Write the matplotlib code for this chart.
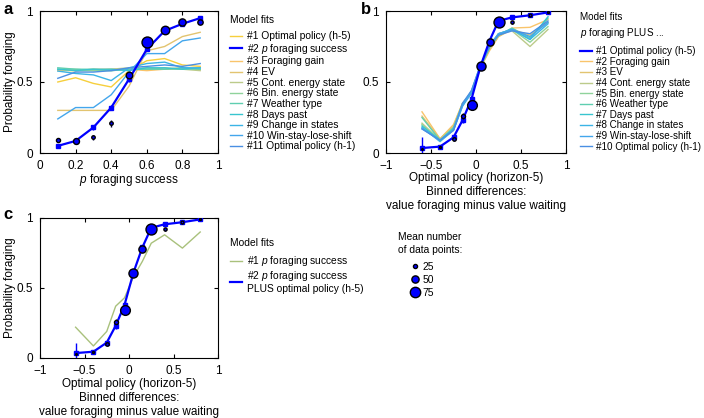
import matplotlib
matplotlib.use("Agg")
import matplotlib.pyplot as plt
from matplotlib.lines import Line2D

plt.rcParams['font.family'] = ['Liberation Sans', 'DejaVu Sans']
plt.rcParams['mathtext.fontset'] = 'custom'
plt.rcParams['mathtext.it'] = 'Liberation Sans:italic'
plt.rcParams['mathtext.rm'] = 'Liberation Sans'

# ---- panel a data ----
p_success = [0.1, 0.2, 0.3, 0.4, 0.5, 0.6, 0.7, 0.8, 0.9]
a_data = [0.09, 0.085, 0.11, 0.21, 0.55, 0.78, 0.865, 0.92, 0.92]
a_data_err = [0.01, 0.01, 0.02, 0.025, 0.015, 0.01, 0.01, 0.01, 0.01]
a_data_n = [25, 40, 20, 20, 45, 80, 60, 50, 35]
a_fit = [0.05, 0.085, 0.18, 0.32, 0.52, 0.73, 0.86, 0.91, 0.95]
a_fit_err = [0.01, 0.01, 0.015, 0.02, 0.02, 0.015, 0.01, 0.01, 0.01]

a_labels = ["#1 Optimal policy (h-5)", "#2 $p$ foraging success", "#3 Foraging gain",
            "#4 EV", "#5 Cont. energy state", "#6 Bin. energy state", "#7 Weather type",
            "#8 Days past", "#9 Change in states", "#10 Win-stay-lose-shift",
            "#11 Optimal policy (h-1)"]
a_colors = ["#f6cf3c", "#0000ff", "#f9c46b", "#e2c470", "#bccb8a", "#8fd39b",
            "#5fceb0", "#38c5cf", "#3bb4e6", "#43a6ec", "#4a8fe3"]
a_models = [
    [0.50, 0.53, 0.49, 0.465, 0.58, 0.65, 0.665, 0.62, 0.61],
    None,
    [0.58, 0.58, 0.59, 0.59, 0.59, 0.58, 0.59, 0.60, 0.59],
    [0.30, 0.30, 0.30, 0.30, 0.47, 0.72, 0.75, 0.82, 0.85],
    [0.59, 0.58, 0.58, 0.59, 0.60, 0.59, 0.60, 0.59, 0.58],
    [0.59, 0.59, 0.58, 0.58, 0.59, 0.60, 0.59, 0.59, 0.59],
    [0.60, 0.59, 0.59, 0.58, 0.59, 0.59, 0.59, 0.60, 0.59],
    [0.59, 0.58, 0.59, 0.59, 0.58, 0.60, 0.60, 0.59, 0.60],
    [0.577, 0.56, 0.55, 0.51, 0.60, 0.63, 0.64, 0.60, 0.60],
    [0.24, 0.32, 0.32, 0.41, 0.57, 0.70, 0.70, 0.79, 0.81],
    [0.526, 0.57, 0.57, 0.58, 0.60, 0.61, 0.62, 0.61, 0.63],
]

# ---- panels b and c data ----
bins = [-0.6, -0.4, -0.25, -0.15, -0.05, 0.05, 0.15, 0.25, 0.4, 0.6, 0.8]
bc_data = [0.03, 0.04, 0.10, 0.26, 0.34, 0.61, 0.78, 0.92, 0.92, 0.97, 0.99]
bc_data_err = [0.0, 0.0, 0.01, 0.02, 0.01, 0.01, 0.01, 0.01, 0.01, 0.01, 0.0]
bc_data_n = [5, 8, 20, 25, 70, 65, 50, 80, 18, 15, 8]
bc_fit = [0.035, 0.045, 0.11, 0.23, 0.38, 0.61, 0.79, 0.93, 0.955, 0.97, 0.99]
bc_fit_err = [0.075, 0.01, 0.015, 0.02, 0.02, 0.015, 0.01, 0.01, 0.01, 0.01, 0.005]

b_labels = ["#1 Optimal policy (h-5)", "#2 Foraging gain", "#3 EV", "#4 Cont. energy state",
            "#5 Bin. energy state", "#6 Weather type", "#7 Days past", "#8 Change in states",
            "#9 Win-stay-lose-shift", "#10 Optimal policy (h-1)"]
b_colors = ["#0000ff", "#f9c46b", "#e2c470", "#bccb8a", "#8fd39b", "#5fceb0",
            "#38c5cf", "#3bb4e6", "#43a6ec", "#4a8fe3"]
b_models = [
    None,
    [0.29, 0.10, 0.20, 0.35, 0.42, 0.60, 0.72, 0.82, 0.88, 0.885, 0.94],
    [0.26, 0.10, 0.19, 0.35, 0.42, 0.60, 0.73, 0.82, 0.87, 0.83, 0.92],
    [0.21, 0.09, 0.17, 0.34, 0.43, 0.60, 0.74, 0.84, 0.86, 0.75, 0.87],
    [0.20, 0.09, 0.17, 0.35, 0.43, 0.61, 0.75, 0.84, 0.87, 0.78, 0.89],
    [0.25, 0.09, 0.18, 0.34, 0.43, 0.61, 0.74, 0.83, 0.88, 0.81, 0.95],
    [0.19, 0.09, 0.17, 0.34, 0.43, 0.61, 0.75, 0.83, 0.87, 0.80, 0.96],
    [0.18, 0.08, 0.16, 0.33, 0.42, 0.61, 0.76, 0.84, 0.87, 0.80, 0.91],
    [0.17, 0.09, 0.16, 0.33, 0.44, 0.62, 0.75, 0.84, 0.87, 0.82, 0.92],
    [0.17, 0.09, 0.16, 0.35, 0.44, 0.62, 0.75, 0.83, 0.86, 0.84, 0.93],
]

c_single = [0.22, 0.086, 0.19, 0.37, 0.43, 0.58, 0.69, 0.82, 0.88, 0.785, 0.90]
c_labels = ["#1 $p$ foraging success", "#2 $p$ foraging success\nPLUS optimal policy (h-5)"]
c_colors = ["#a9c17c", "#0000ff"]

size_legend_n = [25, 50, 75]

BLUE = "#0000ff"
TICK_FS = 8.5
LABEL_FS = 8.5
LEG_FS = 7.4


def n_to_ms(n):
    return 0.7 + 0.09 * n


def style_axes(ax, xticks, xticklabels):
    ax.set_ylim(0, 1)
    ax.set_yticks([0, 0.5, 1])
    ax.set_yticklabels(["0", "0.5", "1"])
    ax.set_xticks(xticks)
    ax.set_xticklabels(xticklabels)
    ax.tick_params(direction='in', top=True, right=True, length=3, width=0.8,
                   labelsize=TICK_FS, pad=5)
    for s in ax.spines.values():
        s.set_linewidth(0.8)


def draw_fit_and_data(ax, x, fit, fit_err, data, data_err, data_n):
    ax.errorbar(x, fit, yerr=fit_err, color=BLUE, lw=1.6, marker='s', ms=2.5,
                elinewidth=1.0, capsize=0, zorder=5)
    ax.errorbar(x, data, yerr=data_err, fmt='none', ecolor='#000033',
                elinewidth=1.0, capsize=0, zorder=6)
    for xi, yi, ni in zip(x, data, data_n):
        ax.plot(xi, yi, 'o', ms=n_to_ms(ni), mfc=BLUE, mec='black', mew=1.0, zorder=7)


def set_labels(ax, xlabel, ylabel, x_top_px, height_px):
    ax.set_xlabel(xlabel, fontsize=LABEL_FS, va='top', linespacing=1.2)
    ax.xaxis.set_label_coords(0.5, -x_top_px / height_px)
    if ylabel:
        ax.set_ylabel(ylabel, fontsize=LABEL_FS, va='center')
        ax.yaxis.set_label_coords(-29.5 / 178, 0.5)


def leg(ax, handles, labels, title, x_px, y_px, fs=LEG_FS):
    lg = ax.legend(handles, labels, title=title, loc='upper left',
                   bbox_to_anchor=(x_px / 704, 1 - y_px / 418),
                   bbox_transform=fig.transFigure, frameon=False,
                   fontsize=fs, title_fontsize=fs, alignment='left',
                   handlelength=1.2, handletextpad=0.45, labelspacing=0.06,
                   borderpad=0, borderaxespad=0)
    lg._legend_box.sep = 4.5
    lg.get_title().set_linespacing(1.4)
    return lg


fig = plt.figure(figsize=(7.04, 4.18), dpi=100)
ax_a = fig.add_axes([40 / 704, 1 - 153 / 418, 178 / 704, 142 / 418])
ax_b = fig.add_axes([386 / 704, 1 - 153 / 418, 180 / 704, 142 / 418])
ax_c = fig.add_axes([40 / 704, 1 - 358 / 418, 178 / 704, 140 / 418])

# panel a
handles = []
for lab, col, vals in zip(a_labels, a_colors, a_models):
    if vals is None:
        handles.append(Line2D([], [], color=BLUE, lw=1.6))
        continue
    ax_a.plot(p_success, vals, color=col, lw=1.0, zorder=3)
    handles.append(Line2D([], [], color=col, lw=1.0))
draw_fit_and_data(ax_a, p_success, a_fit, a_fit_err, a_data, a_data_err, a_data_n)
ax_a.set_xlim(0, 1)
style_axes(ax_a, [0, 0.2, 0.4, 0.6, 0.8, 1], ["0", "0.2", "0.4", "0.6", "0.8", "1"])
set_labels(ax_a, "$p$ foraging success", "Probability foraging", 19, 142)
leg(ax_a, handles, a_labels, "Model fits", 230, 15)

# panel b
handles = []
for lab, col, vals in zip(b_labels, b_colors, b_models):
    if vals is None:
        handles.append(Line2D([], [], color=BLUE, lw=1.6))
        continue
    ax_b.plot(bins, vals, color=col, lw=1.0, zorder=3)
    handles.append(Line2D([], [], color=col, lw=1.0))
draw_fit_and_data(ax_b, bins, bc_fit, bc_fit_err, bc_data, bc_data_err, bc_data_n)
ax_b.set_xlim(-1, 1)
style_axes(ax_b, [-1, -0.5, 0, 0.5, 1], ["\u22121", "\u22120.5", "0", "0.5", "1"])
xl = "Optimal policy (horizon-5)\nBinned differences:\nvalue foraging minus value waiting"
set_labels(ax_b, xl, None, 19, 142)
leg(ax_b, handles, b_labels, "Model fits\n$p$ foraging PLUS ...", 580, 12, fs=7.1)

# panel c
ax_c.plot(bins, c_single, color=c_colors[0], lw=1.0, zorder=3)
draw_fit_and_data(ax_c, bins, bc_fit, bc_fit_err, bc_data, bc_data_err, bc_data_n)
ax_c.set_xlim(-1, 1)
style_axes(ax_c, [-1, -0.5, 0, 0.5, 1], ["\u22121", "\u22120.5", "0", "0.5", "1"])
set_labels(ax_c, xl, "Probability foraging", 20, 140)
handles = [Line2D([], [], color=c_colors[0], lw=1.0), Line2D([], [], color=BLUE, lw=1.6)]
leg(ax_c, handles, c_labels, "Model fits", 230, 238)

# size legend
size_handles = [Line2D([], [], ls='none', marker='o', ms=n_to_ms(n), mfc=BLUE, mec='black',
                       mew=1.0) for n in size_legend_n]
sl = fig.legend(size_handles, [str(n) for n in size_legend_n],
                title="Mean number\nof data points:",
                loc='upper left', bbox_to_anchor=(398 / 704, 1 - 232 / 418), frameon=False,
                fontsize=LEG_FS, title_fontsize=LEG_FS, alignment='left', handlelength=3.4,
                handletextpad=-1.05, labelspacing=0.3, borderpad=0, borderaxespad=0)
sl._legend_box.sep = 5
sl.get_title().set_linespacing(1.35)

# panel letters
fig.text(3 / 704, 1 - 9 / 418, "a", fontsize=12, fontweight='bold', va='center')
fig.text(361 / 704, 1 - 9 / 418, "b", fontsize=12, fontweight='bold', va='center')
fig.text(3 / 704, 1 - 215 / 418, "c", fontsize=12, fontweight='bold', va='center')

fig.savefig("out.png", dpi=100)
